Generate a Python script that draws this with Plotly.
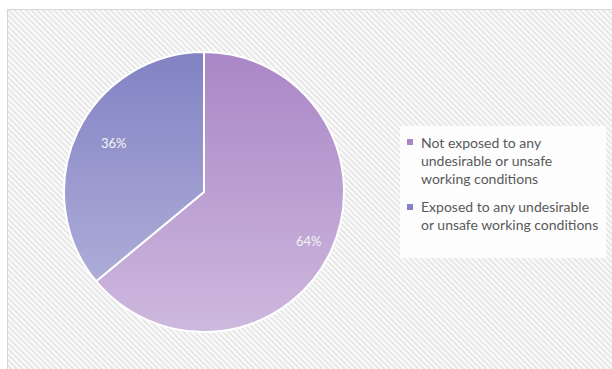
import base64
import math
import plotly.graph_objects as go

# Survey split
labels = [
    "Not exposed to any undesirable or unsafe working conditions",
    "Exposed to any undesirable or unsafe working conditions",
]
legend_lines = [
    "Not exposed to any<br>undesirable or unsafe<br>working conditions",
    "Exposed to any undesirable<br>or unsafe working conditions",
]
values = [64, 36]
colors = ["#aa86c6", "#8282c4"]

W, H = 612, 369
CX, CY, R = 204, 192, 140  # pie centre / radius in px


def svg_uri(svg):
    return "data:image/svg+xml;base64," + base64.b64encode(svg.encode()).decode()


# hatched chart-area background with a thin frame
bg_svg = f"""<svg xmlns='http://www.w3.org/2000/svg' width='{W}' height='{H}'>
<defs><pattern id='h' patternUnits='userSpaceOnUse' width='4' height='4' patternTransform='rotate(45)'>
<rect width='4' height='4' fill='#fbfbfb'/><line x1='0' y1='1' x2='4' y2='1' stroke='#e2e2e2' stroke-width='1.6'/>
</pattern></defs>
<rect width='{W}' height='{H}' fill='#ffffff'/>
<rect x='7.5' y='9.5' width='{W}' height='{H}' fill='url(#h)' stroke='#d6d6d6' stroke-width='1'/>
</svg>"""

# soft vertical light gradient over the pie
d = 2 * R
grad_svg = f"""<svg xmlns='http://www.w3.org/2000/svg' width='{d}' height='{d}'>
<defs><linearGradient id='g' x1='0' y1='0' x2='0' y2='1'>
<stop offset='0' stop-color='#ffffff' stop-opacity='0'/>
<stop offset='1' stop-color='#ffffff' stop-opacity='0.42'/>
</linearGradient></defs>
<circle cx='{R}' cy='{R}' r='{R}' fill='url(#g)'/>
</svg>"""

fig = go.Figure(
    go.Pie(
        labels=labels,
        values=values,
        marker=dict(colors=colors, line=dict(color="#ffffff", width=2)),
        sort=False,
        direction="clockwise",
        rotation=0,
        textinfo="none",
        hoverinfo="label+percent",
        showlegend=False,
        domain=dict(x=[(CX - R) / W, (CX + R) / W], y=[1 - (CY + R) / H, 1 - (CY - R) / H]),
    )
)

# percentage labels at each slice's mid-angle
total = sum(values)
cum = 0
annotations = []
for v in values:
    mid = (cum + v / 2) / total * 2 * math.pi
    cum += v
    px = CX + 0.83 * R * math.sin(mid)
    py = CY - 0.83 * R * math.cos(mid)
    annotations.append(dict(
        x=px / W, y=1 - py / H, xref="paper", yref="paper",
        text=f"{v / total * 100:.0f}%", showarrow=False,
        font=dict(family="Lato", size=13, color="#f4f4f4"),
    ))

# legend box, swatches and text
shapes = [dict(type="rect", xref="paper", yref="paper",
               x0=400 / W, x1=606 / W, y0=1 - 258 / H, y1=1 - 126 / H,
               fillcolor="rgba(255,255,255,0.85)", line=dict(width=0), layer="above")]
legend_top = [142, 207]
for txt, col, ty in zip(legend_lines, colors, legend_top):
    shapes.append(dict(type="rect", xref="paper", yref="paper",
                       x0=407 / W, x1=413 / W, y0=1 - (ty + 3) / H, y1=1 - (ty - 3) / H,
                       fillcolor=col, line=dict(width=0), layer="above"))
    annotations.append(dict(
        x=419 / W, y=1 - (ty - 10.5) / H, xref="paper", yref="paper",
        xanchor="left", yanchor="top", align="left",
        text=txt, showarrow=False,
        font=dict(family="Lato", size=14, color="#595959"),
    ))

fig.update_layout(
    width=W, height=H,
    margin=dict(l=0, r=0, t=0, b=0),
    paper_bgcolor="#ffffff",
    annotations=annotations,
    shapes=shapes,
    images=[
        dict(source=svg_uri(bg_svg), xref="paper", yref="paper", x=0, y=1,
             sizex=1, sizey=1, xanchor="left", yanchor="top", sizing="stretch", layer="below"),
        dict(source=svg_uri(grad_svg), xref="paper", yref="paper",
             x=(CX - R) / W, y=1 - (CY - R) / H, sizex=d / W, sizey=d / H,
             xanchor="left", yanchor="top", sizing="stretch", layer="above"),
    ],
)

fig.write_html("out.html")
